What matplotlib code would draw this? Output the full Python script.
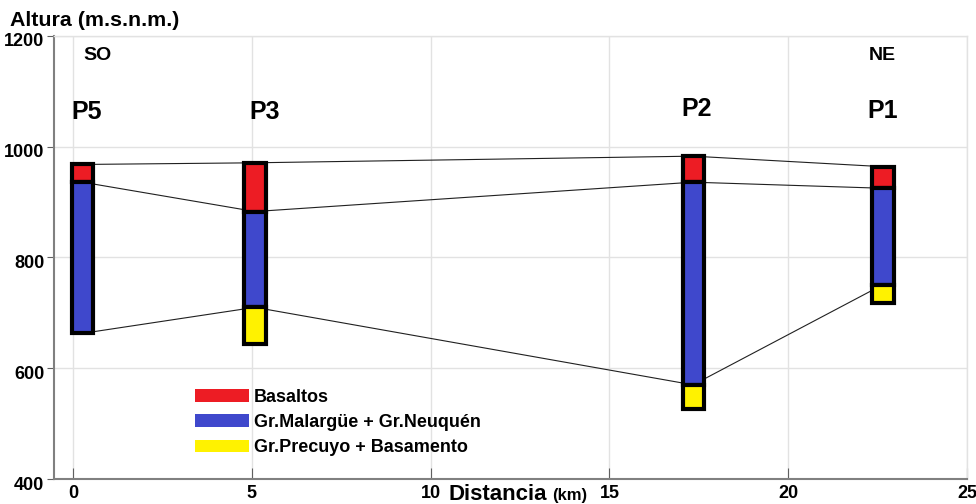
#! /usr/bin/env python3

import matplotlib
matplotlib.use("Agg")
import matplotlib.pyplot as plt
import matplotlib.transforms as mt
from matplotlib.patches import Patch

# perfil SO-NE, pozos y techos de cada unidad (m.s.n.m.)
pozos = ["P5", "P3", "P2", "P1"]
dist_km = [0.27, 5.09, 17.34, 22.65]
techo_basaltos = [968, 971, 983, 964]
techo_malargue = [936, 883, 936, 925]
techo_precuyo = [663, 710, 570, 751]
base_pozo = [663, 643, 527, 717]

unidades = ["Basaltos", "Gr.Malargüe + Gr.Neuquén", "Gr.Precuyo + Basamento"]
colores = ["#ed1c24", "#3f48cc", "#fff200"]

xticks = [0, 5, 10, 15, 20, 25]
yticks = [400, 600, 800, 1000, 1200]

plt.rcParams['font.family'] = ['Arial', 'Liberation Sans', 'DejaVu Sans']
plt.rcParams['font.weight'] = 'bold'

fig = plt.figure(figsize=(9.76, 5.04), dpi=100)
ax = fig.add_axes([0.0553, 0.0496, 0.9355, 0.879])

# lineas de correlacion entre pozos
for serie in [techo_basaltos, techo_malargue, techo_precuyo]:
    ax.plot(dist_km, serie, color='#202020', lw=0.8, zorder=2)

# columnas de los pozos
ancho = 0.59
for i in range(len(pozos)):
    limites = [techo_basaltos[i], techo_malargue[i], techo_precuyo[i], base_pozo[i]]
    for j in range(3):
        h = limites[j] - limites[j + 1]
        if h <= 0:
            continue
        ax.bar(dist_km[i], h, bottom=limites[j + 1], width=ancho, color=colores[j],
               edgecolor='black', linewidth=3, zorder=3)

# nombres de pozos
label_x = [0.39, 5.37, 17.45, 22.65]
label_y = [1062, 1062, 1068, 1064]
for nombre, lx, ly in zip(pozos, label_x, label_y):
    ax.text(lx, ly, nombre, fontsize=18, fontweight='bold', ha='center', va='center')
ax.text(0.70, 1164, "SO", fontsize=14, fontweight='bold', ha='center', va='center')
ax.text(22.62, 1164, "NE", fontsize=14, fontweight='bold', ha='center', va='center')

ax.set_xlim(-0.53, 25)
ax.set_ylim(400, 1200)
ax.set_xticks(xticks)
ax.set_yticks(yticks)
ax.grid(True, color='#e2e2e2', lw=1, zorder=0)
ax.set_axisbelow(True)
for s in ['left', 'bottom']:
    ax.spines[s].set_color('#808080')
    ax.spines[s].set_linewidth(1.5)
for s in ['top', 'right']:
    ax.spines[s].set_color('#e2e2e2')
    ax.spines[s].set_linewidth(1)
ax.tick_params(axis='x', direction='in', length=8, color='#606060', labelsize=13, pad=4)
ax.tick_params(axis='y', direction='out', length=5, color='#606060', labelsize=13, pad=2)
# las etiquetas del eje y quedan un poco por debajo de la grilla
bajar = mt.ScaledTranslation(0, -4 / 100, fig.dpi_scale_trans)
for t in ax.get_yticklabels():
    t.set_transform(t.get_transform() + bajar)
for t in ax.get_xticklabels() + ax.get_yticklabels():
    t.set_fontweight('bold')

leg = ax.legend(handles=[Patch(facecolor=c, edgecolor='none', label=u) for u, c in zip(unidades, colores)],
                loc='upper left', bbox_to_anchor=(0.155, 0.203), frameon=False,
                prop={'size': 13, 'weight': 'bold'}, handlelength=2.95, handleheight=0.72,
                labelspacing=0.45, handletextpad=0.3, borderpad=0, borderaxespad=0)

fig.text(10 / 976, 1 - 20 / 504, "Altura (m.s.n.m.)", fontsize=15.4, fontweight='bold', va='center', ha='left')
fig.text(448 / 976, 0.008, "Distancia", fontsize=16, fontweight='bold', va='baseline', ha='left')
fig.text(552 / 976, 0.008, "(km)", fontsize=12, fontweight='bold', va='baseline', ha='left')

plt.savefig("out.png", dpi=100)
